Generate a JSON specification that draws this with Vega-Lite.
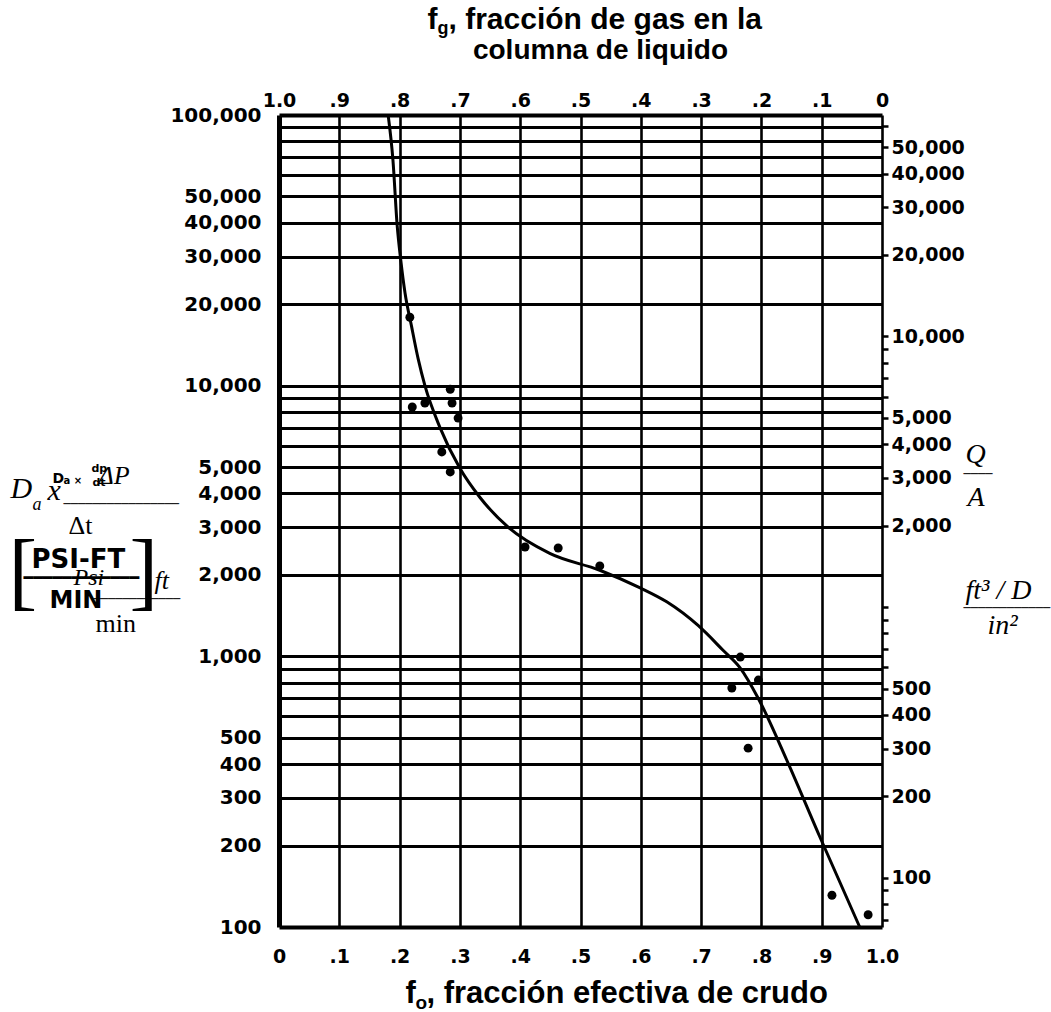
{
  "$schema": "https://vega.github.io/schema/vega-lite/v6.json",
  "width": 603,
  "height": 812,
  "autosize": {"type": "none"},
  "padding": {"left": 279, "top": 115, "right": 169, "bottom": 85},
  "background": "white",
  "config": {
    "view": {"stroke": null},
    "axis": {
      "labels": false, "ticks": false, "domain": false, "grid": false,
      "titleAngle": 0, "titleAlign": "left", "titleBaseline": "alphabetic",
      "titleColor": "black", "titleFontWeight": "normal", "titleFontStyle": "normal",
      "titlePadding": 0, "labelOverlap": false, "labelFlush": false
    }
  },
  "datasets": {
    "pts": [
      {"fo": 0.217, "val": 17900}, {"fo": 0.221, "val": 8340}, {"fo": 0.242, "val": 8630},
      {"fo": 0.284, "val": 9700}, {"fo": 0.287, "val": 8630}, {"fo": 0.297, "val": 7590},
      {"fo": 0.270, "val": 5690}, {"fo": 0.284, "val": 4800}, {"fo": 0.408, "val": 2535},
      {"fo": 0.463, "val": 2513}, {"fo": 0.532, "val": 2158}, {"fo": 0.765, "val": 994},
      {"fo": 0.795, "val": 817}, {"fo": 0.751, "val": 764}, {"fo": 0.778, "val": 458},
      {"fo": 0.917, "val": 131}, {"fo": 0.977, "val": 111}
    ],
    "curve": [
      {"fo": 0.181, "val": 100000}, {"fo": 0.189, "val": 68000}, {"fo": 0.196, "val": 39000},
      {"fo": 0.202, "val": 29000}, {"fo": 0.209, "val": 22000}, {"fo": 0.2195, "val": 16700},
      {"fo": 0.231, "val": 12500}, {"fo": 0.242, "val": 10000}, {"fo": 0.267, "val": 7000},
      {"fo": 0.300, "val": 4950}, {"fo": 0.333, "val": 3870}, {"fo": 0.380, "val": 3000},
      {"fo": 0.449, "val": 2400}, {"fo": 0.532, "val": 2080}, {"fo": 0.599, "val": 1790},
      {"fo": 0.643, "val": 1590}, {"fo": 0.695, "val": 1300}, {"fo": 0.736, "val": 1055},
      {"fo": 0.765, "val": 905}, {"fo": 0.794, "val": 705}, {"fo": 0.842, "val": 414},
      {"fo": 0.897, "val": 215}, {"fo": 0.963, "val": 100}
    ]
  },
  "data": {"name": "pts"},
  "resolve": {"scale": {"x": "independent", "y": "independent"}, "axis": {"x": "independent", "y": "independent"}},
  "layer": [
    {
      "data": {"name": "curve"},
      "mark": {"type": "line", "color": "black", "strokeWidth": 3, "interpolate": "monotone"},
      "encoding": {
        "x": {"field": "fo", "type": "quantitative", "scale": {"domain": [0, 1]},
          "axis": {"orient": "bottom", "title": null, "values": [0, 0.1, 0.2, 0.3, 0.4, 0.5, 0.6, 0.7, 0.8, 0.9, 1],
            "grid": true, "gridColor": "black", "gridOpacity": 1,
            "gridWidth": {"condition": {"test": "datum.value == 0", "value": 5}, "value": 2.6},
            "labels": true, "labelExpr": "datum.value == 0 ? '0' : datum.value == 1 ? '1.0' : '.' + round(datum.value * 10)",
            "labelFont": "DejaVu Sans", "labelFontWeight": "bold", "labelFontSize": 19, "labelColor": "black",
            "labelPadding": 20, "labelBaseline": "top"}},
        "y": {"field": "val", "type": "quantitative", "scale": {"type": "log", "domain": [100, 100000]},
          "axis": {"orient": "left", "title": null,
            "values": [100, 200, 300, 400, 500, 600, 700, 800, 900, 1000, 2000, 3000, 4000, 5000, 6000, 7000, 8000, 9000, 10000, 20000, 30000, 40000, 50000, 60000, 70000, 80000, 90000, 100000],
            "grid": true, "gridColor": "black", "gridOpacity": 1,
            "gridWidth": {"condition": {"test": "datum.value == 100 || datum.value == 100000", "value": 4}, "value": 3},
            "labels": true,
            "labelExpr": "indexof([100,200,300,400,500,1000,2000,3000,4000,5000,10000,20000,30000,40000,50000,100000], datum.value) >= 0 ? format(datum.value, ',') : ''",
            "labelFont": "DejaVu Sans", "labelFontWeight": "bold", "labelFontSize": 20, "labelColor": "black",
            "labelPadding": 18, "labelBaseline": "middle"}}
      }
    },
    {
      "mark": {"type": "circle", "color": "black", "opacity": 1, "size": 80},
      "encoding": {
        "x": {"field": "fo", "type": "quantitative", "scale": {"domain": [0, 1]}, "axis": null},
        "y": {"field": "val", "type": "quantitative", "scale": {"type": "log", "domain": [100, 100000]}, "axis": null}
      }
    },
    {
      "mark": {"type": "point", "opacity": 0},
      "encoding": {
        "x": {"field": "fo", "type": "quantitative", "scale": {"domain": [0, 1]},
          "axis": {"orient": "top", "title": null, "values": [0, 0.1, 0.2, 0.3, 0.4, 0.5, 0.6, 0.7, 0.8, 0.9, 1],
            "labels": true, "labelExpr": "datum.value == 0 ? '1.0' : datum.value == 1 ? '0' : '.' + (10 - round(datum.value * 10))",
            "labelFont": "DejaVu Sans", "labelFontWeight": "bold", "labelFontSize": 19, "labelColor": "black",
            "labelPadding": 9, "labelBaseline": "alphabetic"}}
      }
    },
    {
      "mark": {"type": "point", "opacity": 0},
      "encoding": {
        "y": {"field": "val", "type": "quantitative", "scale": {"type": "log", "domain": [65.8, 65800]},
          "axis": {"orient": "right", "title": null,
            "values": [70, 80, 90, 100, 200, 300, 400, 500, 600, 700, 800, 900, 1000, 2000, 3000, 4000, 5000, 6000, 7000, 8000, 9000, 10000, 20000, 30000, 40000, 50000, 60000],
            "ticks": true, "tickSize": 6, "tickWidth": 2.5, "tickColor": "black",
            "labels": true,
            "labelExpr": "indexof([100,200,300,400,500,2000,3000,4000,5000,10000,20000,30000,40000,50000], datum.value) >= 0 ? format(datum.value, ',') : ''",
            "labelFont": "DejaVu Sans", "labelFontWeight": "bold", "labelFontSize": 19, "labelColor": "black",
            "labelPadding": 3, "labelBaseline": "middle"}}
      }
    },
    {"mark": {"type": "point", "opacity": 0}, "encoding": {"y": {"field": "val", "type": "quantitative", "scale": {"type": "log", "domain": [100, 100000]},
      "axis": {"orient": "left", "title": "f", "titleX": 148, "titleY": -87, "titleFont": "Liberation Sans", "titleFontSize": 30, "titleFontWeight": "bold"}}}},
    {"mark": {"type": "point", "opacity": 0}, "encoding": {"y": {"field": "val", "type": "quantitative", "scale": {"type": "log", "domain": [100, 100000]},
      "axis": {"orient": "left", "title": "g", "titleX": 158, "titleY": -82, "titleFont": "Liberation Sans", "titleFontSize": 18, "titleFontWeight": "bold"}}}},
    {"mark": {"type": "point", "opacity": 0}, "encoding": {"y": {"field": "val", "type": "quantitative", "scale": {"type": "log", "domain": [100, 100000]},
      "axis": {"orient": "left", "title": ", fracción de gas en la", "titleX": 169, "titleY": -87, "titleFont": "Liberation Sans", "titleFontSize": 30, "titleFontWeight": "bold"}}}},
    {"mark": {"type": "point", "opacity": 0}, "encoding": {"y": {"field": "val", "type": "quantitative", "scale": {"type": "log", "domain": [100, 100000]},
      "axis": {"orient": "left", "title": "columna de liquido", "titleX": 321, "titleY": -57, "titleAlign": "center", "titleFont": "Liberation Sans", "titleFontSize": 28, "titleFontWeight": "bold"}}}},
    {"mark": {"type": "point", "opacity": 0}, "encoding": {"y": {"field": "val", "type": "quantitative", "scale": {"type": "log", "domain": [100, 100000]},
      "axis": {"orient": "left", "title": "f", "titleX": 126, "titleY": 887, "titleFont": "Liberation Sans", "titleFontSize": 31, "titleFontWeight": "bold"}}}},
    {"mark": {"type": "point", "opacity": 0}, "encoding": {"y": {"field": "val", "type": "quantitative", "scale": {"type": "log", "domain": [100, 100000]},
      "axis": {"orient": "left", "title": "o", "titleX": 136, "titleY": 893, "titleFont": "Liberation Sans", "titleFontSize": 19, "titleFontWeight": "bold"}}}},
    {"mark": {"type": "point", "opacity": 0}, "encoding": {"y": {"field": "val", "type": "quantitative", "scale": {"type": "log", "domain": [100, 100000]},
      "axis": {"orient": "left", "title": ", fracción efectiva de crudo", "titleX": 147, "titleY": 887, "titleFont": "Liberation Sans", "titleFontSize": 31, "titleFontWeight": "bold"}}}},
    {"mark": {"type": "point", "opacity": 0}, "encoding": {"y": {"field": "val", "type": "quantitative", "scale": {"type": "log", "domain": [100, 100000]},
      "axis": {"orient": "left", "title": "D", "titleX": -269, "titleY": 382, "titleFont": "Liberation Serif", "titleFontSize": 30, "titleFontStyle": "italic"}}}},
    {"mark": {"type": "point", "opacity": 0}, "encoding": {"y": {"field": "val", "type": "quantitative", "scale": {"type": "log", "domain": [100, 100000]},
      "axis": {"orient": "left", "title": "a", "titleX": -247, "titleY": 394, "titleFont": "Liberation Serif", "titleFontSize": 18, "titleFontStyle": "italic"}}}},
    {"mark": {"type": "point", "opacity": 0}, "encoding": {"y": {"field": "val", "type": "quantitative", "scale": {"type": "log", "domain": [100, 100000]},
      "axis": {"orient": "left", "title": "x", "titleX": -232, "titleY": 384, "titleFont": "Liberation Serif", "titleFontSize": 30, "titleFontStyle": "italic"}}}},
    {"mark": {"type": "point", "opacity": 0}, "encoding": {"y": {"field": "val", "type": "quantitative", "scale": {"type": "log", "domain": [100, 100000]},
      "axis": {"orient": "left", "title": "ΔP", "titleX": -181, "titleY": 368, "titleFont": "Liberation Serif", "titleFontSize": 26, "titleFontStyle": "italic"}}}},
    {"mark": {"type": "point", "opacity": 0}, "encoding": {"y": {"field": "val", "type": "quantitative", "scale": {"type": "log", "domain": [100, 100000]},
      "axis": {"orient": "left", "title": "D", "titleX": -227, "titleY": 367, "titleFont": "DejaVu Sans", "titleFontSize": 14, "titleFontWeight": "bold"}}}},
    {"mark": {"type": "point", "opacity": 0}, "encoding": {"y": {"field": "val", "type": "quantitative", "scale": {"type": "log", "domain": [100, 100000]},
      "axis": {"orient": "left", "title": "a ×", "titleX": -216, "titleY": 368, "titleFont": "DejaVu Sans", "titleFontSize": 10, "titleFontWeight": "bold"}}}},
    {"mark": {"type": "point", "opacity": 0}, "encoding": {"y": {"field": "val", "type": "quantitative", "scale": {"type": "log", "domain": [100, 100000]},
      "axis": {"orient": "left", "title": "dp", "titleX": -188, "titleY": 356, "titleFont": "DejaVu Sans", "titleFontSize": 11, "titleFontWeight": "bold"}}}},
    {"mark": {"type": "point", "opacity": 0}, "encoding": {"y": {"field": "val", "type": "quantitative", "scale": {"type": "log", "domain": [100, 100000]},
      "axis": {"orient": "left", "title": "dt", "titleX": -187, "titleY": 370, "titleFont": "DejaVu Sans", "titleFontSize": 11, "titleFontWeight": "bold"}}}},
    {"mark": {"type": "point", "opacity": 0}, "encoding": {"y": {"field": "val", "type": "quantitative", "scale": {"type": "log", "domain": [100, 100000]},
      "axis": {"orient": "left", "title": "────────────────", "titleX": -216, "titleY": 392, "titleFont": "DejaVu Sans Mono", "titleFontSize": 12}}}},
    {"mark": {"type": "point", "opacity": 0}, "encoding": {"y": {"field": "val", "type": "quantitative", "scale": {"type": "log", "domain": [100, 100000]},
      "axis": {"orient": "left", "title": "Δt", "titleX": -211, "titleY": 418, "titleFont": "Liberation Serif", "titleFontSize": 26}}}},
    {"mark": {"type": "point", "opacity": 0}, "encoding": {"y": {"field": "val", "type": "quantitative", "scale": {"type": "log", "domain": [100, 100000]},
      "axis": {"orient": "left", "title": "[", "titleX": -271, "titleY": 483, "titleFont": "Liberation Serif", "titleFontSize": 86}}}},
    {"mark": {"type": "point", "opacity": 0}, "encoding": {"y": {"field": "val", "type": "quantitative", "scale": {"type": "log", "domain": [100, 100000]},
      "axis": {"orient": "left", "title": "]", "titleX": -150, "titleY": 483, "titleFont": "Liberation Serif", "titleFontSize": 86}}}},
    {"mark": {"type": "point", "opacity": 0}, "encoding": {"y": {"field": "val", "type": "quantitative", "scale": {"type": "log", "domain": [100, 100000]},
      "axis": {"orient": "left", "title": "PSI-FT", "titleX": -248, "titleY": 452, "titleFont": "DejaVu Sans", "titleFontSize": 26, "titleFontWeight": "bold"}}}},
    {"mark": {"type": "point", "opacity": 0}, "encoding": {"y": {"field": "val", "type": "quantitative", "scale": {"type": "log", "domain": [100, 100000]},
      "axis": {"orient": "left", "title": "━━━━━━━━━━━━", "titleX": -256, "titleY": 467, "titleFont": "DejaVu Sans Mono", "titleFontSize": 16}}}},
    {"mark": {"type": "point", "opacity": 0}, "encoding": {"y": {"field": "val", "type": "quantitative", "scale": {"type": "log", "domain": [100, 100000]},
      "axis": {"orient": "left", "title": "MIN", "titleX": -230, "titleY": 492, "titleFont": "DejaVu Sans", "titleFontSize": 24, "titleFontWeight": "bold"}}}},
    {"mark": {"type": "point", "opacity": 0}, "encoding": {"y": {"field": "val", "type": "quantitative", "scale": {"type": "log", "domain": [100, 100000]},
      "axis": {"orient": "left", "title": "Psi", "titleX": -206, "titleY": 469, "titleFont": "Liberation Serif", "titleFontSize": 24, "titleFontStyle": "italic"}}}},
    {"mark": {"type": "point", "opacity": 0}, "encoding": {"y": {"field": "val", "type": "quantitative", "scale": {"type": "log", "domain": [100, 100000]},
      "axis": {"orient": "left", "title": "ft", "titleX": -125, "titleY": 473, "titleFont": "Liberation Serif", "titleFontSize": 26, "titleFontStyle": "italic"}}}},
    {"mark": {"type": "point", "opacity": 0}, "encoding": {"y": {"field": "val", "type": "quantitative", "scale": {"type": "log", "domain": [100, 100000]},
      "axis": {"orient": "left", "title": "────────────", "titleX": -186, "titleY": 487, "titleFont": "DejaVu Sans Mono", "titleFontSize": 12}}}},
    {"mark": {"type": "point", "opacity": 0}, "encoding": {"y": {"field": "val", "type": "quantitative", "scale": {"type": "log", "domain": [100, 100000]},
      "axis": {"orient": "left", "title": "min", "titleX": -184, "titleY": 516, "titleFont": "Liberation Serif", "titleFontSize": 26}}}},
    {"mark": {"type": "point", "opacity": 0}, "encoding": {"y": {"field": "val", "type": "quantitative", "scale": {"type": "log", "domain": [100, 100000]},
      "axis": {"orient": "left", "title": "Q", "titleX": 686, "titleY": 347, "titleFont": "Liberation Serif", "titleFontSize": 28, "titleFontStyle": "italic"}}}},
    {"mark": {"type": "point", "opacity": 0}, "encoding": {"y": {"field": "val", "type": "quantitative", "scale": {"type": "log", "domain": [100, 100000]},
      "axis": {"orient": "left", "title": "────", "titleX": 684, "titleY": 362, "titleFont": "DejaVu Sans Mono", "titleFontSize": 12}}}},
    {"mark": {"type": "point", "opacity": 0}, "encoding": {"y": {"field": "val", "type": "quantitative", "scale": {"type": "log", "domain": [100, 100000]},
      "axis": {"orient": "left", "title": "A", "titleX": 688, "titleY": 390, "titleFont": "Liberation Serif", "titleFontSize": 28, "titleFontStyle": "italic"}}}},
    {"mark": {"type": "point", "opacity": 0}, "encoding": {"y": {"field": "val", "type": "quantitative", "scale": {"type": "log", "domain": [100, 100000]},
      "axis": {"orient": "left", "title": "ft³ / D", "titleX": 686, "titleY": 483, "titleFont": "Liberation Serif", "titleFontSize": 28, "titleFontStyle": "italic"}}}},
    {"mark": {"type": "point", "opacity": 0}, "encoding": {"y": {"field": "val", "type": "quantitative", "scale": {"type": "log", "domain": [100, 100000]},
      "axis": {"orient": "left", "title": "────────────", "titleX": 684, "titleY": 496, "titleFont": "DejaVu Sans Mono", "titleFontSize": 12}}}},
    {"mark": {"type": "point", "opacity": 0}, "encoding": {"y": {"field": "val", "type": "quantitative", "scale": {"type": "log", "domain": [100, 100000]},
      "axis": {"orient": "left", "title": "in²", "titleX": 708, "titleY": 518, "titleFont": "Liberation Serif", "titleFontSize": 28, "titleFontStyle": "italic"}}}}
  ]
}
